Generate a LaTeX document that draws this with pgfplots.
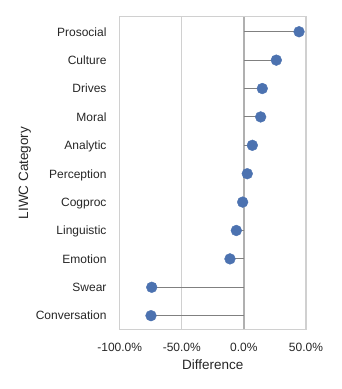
\documentclass[border=0pt]{standalone}
\usepackage{pgfplots}
\pgfplotsset{compat=1.18}
\usepackage{fontspec}
\setmainfont{Liberation Sans}
\definecolor{txt}{HTML}{262626}
\definecolor{frame}{HTML}{D0D0D0}
\definecolor{gridc}{HTML}{D0D0D0}
\definecolor{zeroc}{HTML}{B0B0B0}
\definecolor{stem}{HTML}{808080}
\definecolor{dot}{HTML}{4C72B0}
\begin{document}
\begin{tikzpicture}
\useasboundingbox (0,0) rectangle (341pt,389pt);
\begin{axis}[
  at={(119.7pt,59.7pt)}, anchor=south west,
  scale only axis, width=186.3pt, height=312.6pt,
  xmin=-100, xmax=50, ymin=-0.48, ymax=10.53,
  xtick={-100,-50,0,50},
  xticklabels={-100.0\%,-50.0\%,0.0\%,50.0\%},
  ytick={0,1,2,3,4,5,6,7,8,9,10},
  yticklabels={Conversation,Swear,Emotion,Linguistic,Cogproc,Perception,Analytic,Moral,Drives,Culture,Prosocial},
  major tick length=0pt,
  xmajorgrids, grid style={gridc, line width=1.2pt},
  axis line style={frame, line width=1.3pt},
  ticklabel style={font=\fontsize{12}{14}\selectfont, text=txt, inner sep=0pt},
  xticklabel style={anchor=north, yshift=-13.4pt},
  yticklabel style={anchor=base east, xshift=-13pt, yshift=-4.3pt},
  xlabel={Difference}, ylabel={LIWC Category},
  label style={font=\fontsize{13.5}{15}\selectfont, text=txt, inner sep=0pt},
  xlabel style={at={(axis description cs:0.5,0)}, anchor=base, yshift=-39.7pt},
  ylabel style={at={(axis description cs:-0.4922,0.5)}, anchor=base},
  clip=false,
]
\addplot[zeroc, line width=1.3pt, forget plot] coordinates {(0,-0.48) (0,10.53)};
\addplot[only marks, mark=*, mark size=5.4pt, color=dot, mark options={draw=dot, fill=dot}] coordinates {
(-74.8,0) (-74.2,1) (-11.2,2) (-6.1,3) (-1.0,4) (2.7,5) (6.8,6) (13.5,7) (14.8,8) (26.1,9) (44.4,10)};
\addplot[xcomb, stem, line width=1pt] coordinates {
(-74.8,0) (-74.2,1) (-11.2,2) (-6.1,3) (-1.0,4) (2.7,5) (6.8,6) (13.5,7) (14.8,8) (26.1,9) (44.4,10)};
\end{axis}
\end{tikzpicture}
\end{document}
